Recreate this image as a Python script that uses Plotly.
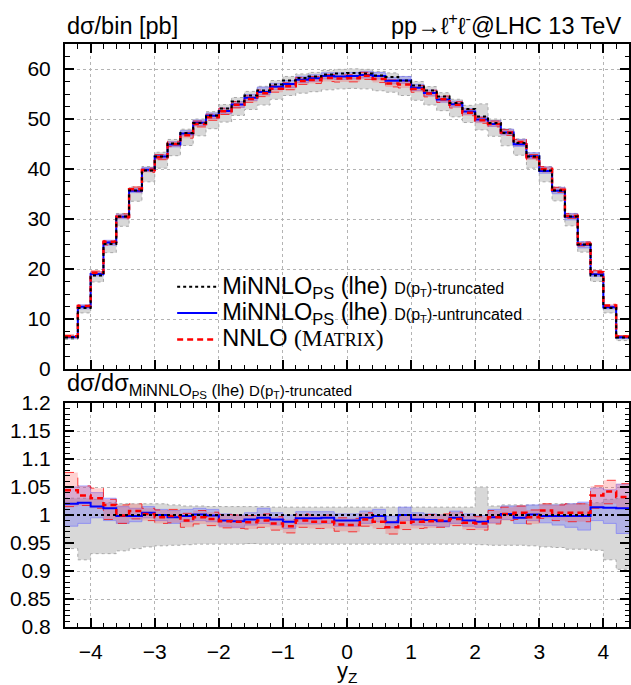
import plotly.graph_objects as go

# ---------------- data ----------------
bin_edges = [-4.4, -4.2, -4.0, -3.8, -3.6, -3.4, -3.2, -3.0, -2.8, -2.6, -2.4,
             -2.2, -2.0, -1.8, -1.6, -1.4, -1.2, -1.0, -0.8, -0.6, -0.4, -0.2,
             0.0, 0.2, 0.4, 0.6, 0.8, 1.0, 1.2, 1.4, 1.6, 1.8, 2.0, 2.2, 2.4,
             2.6, 2.8, 3.0, 3.2, 3.4, 3.6, 3.8, 4.0, 4.2, 4.4]

# MiNNLO_PS (lhe) D(pT)-truncated, dsigma/bin [pb]
minnlo_trunc = [6.3, 12.2, 18.7, 25.0, 30.5, 35.7, 39.7, 42.5, 45.1, 47.2,
                49.2, 50.7, 52.1, 53.5, 54.7, 55.7, 56.9, 57.7, 58.2, 58.5,
                58.9, 59.1, 59.2, 59.1, 58.7, 58.4, 57.7, 56.7, 55.7, 54.5,
                53.2, 52.0, 50.5, 49.2, 47.2, 45.2, 42.5, 39.7, 35.7, 30.5,
                24.9, 18.7, 12.2, 6.3]
# scale band of the truncated prediction (ratio to its central value)
trunc_lo = [0.940, 0.920, 0.931, 0.931, 0.936, 0.940, 0.943, 0.945, 0.946, 0.947,
            0.948, 0.948, 0.948, 0.948, 0.949, 0.948, 0.948, 0.948, 0.948, 0.948,
            0.948, 0.948, 0.948, 0.948, 0.948, 0.948, 0.948, 0.948, 0.948, 0.948,
            0.948, 0.948, 0.947, 0.946, 0.946, 0.946, 0.945, 0.943, 0.942, 0.939,
            0.939, 0.937, 0.920, 0.903]
trunc_hi = [1.030, 1.030, 1.028, 1.022, 1.020, 1.020, 1.020, 1.020, 1.018, 1.016,
            1.016, 1.015, 1.015, 1.015, 1.015, 1.015, 1.014, 1.014, 1.014, 1.014,
            1.014, 1.014, 1.014, 1.014, 1.014, 1.014, 1.014, 1.014, 1.014, 1.014,
            1.014, 1.014, 1.050, 1.016, 1.018, 1.018, 1.018, 1.020, 1.020, 1.020,
            1.020, 1.022, 1.028, 1.030]

# MiNNLO_PS (lhe) D(pT)-untruncated, ratio to truncated
untrunc_ratio = [1.020, 1.022, 1.015, 1.012, 0.998, 0.998, 1.004, 1.000, 0.996, 0.998,
                 1.001, 0.999, 0.990, 0.989, 0.992, 0.995, 0.992, 0.988, 0.994, 0.994,
                 0.995, 0.990, 0.990, 0.995, 0.998, 0.987, 1.000, 0.992, 0.991, 0.989,
                 0.995, 0.990, 0.988, 0.996, 1.002, 0.995, 1.001, 0.998, 0.998, 0.998,
                 0.998, 1.014, 1.013, 1.012]
untrunc_lo = [0.980, 0.985, 0.995, 0.990, 0.985, 0.988, 0.995, 0.990, 0.985, 0.988,
              0.990, 0.988, 0.980, 0.978, 0.982, 0.985, 0.982, 0.976, 0.984, 0.984,
              0.985, 0.980, 0.980, 0.985, 0.988, 0.977, 0.990, 0.982, 0.981, 0.979,
              0.985, 0.980, 0.978, 0.986, 0.992, 0.985, 0.990, 0.986, 0.982, 0.978,
              0.973, 0.990, 0.985, 0.967]
untrunc_hi = [1.050, 1.052, 1.040, 1.030, 1.015, 1.012, 1.015, 1.010, 1.008, 1.010,
              1.012, 1.010, 1.002, 1.000, 1.004, 1.012, 1.004, 1.000, 1.006, 1.006,
              1.006, 1.002, 1.002, 1.007, 1.010, 0.998, 1.014, 1.004, 1.002, 1.000,
              1.007, 1.002, 0.999, 1.010, 1.016, 1.016, 1.018, 1.018, 1.018, 1.020,
              1.023, 1.048, 1.045, 1.055]

# NNLO (MATRIX), ratio to truncated
nnlo_ratio = [1.044, 1.035, 1.030, 1.018, 0.999, 1.007, 1.002, 0.996, 0.998, 0.990,
              0.996, 0.993, 0.989, 0.988, 0.987, 0.990, 0.985, 0.980, 0.990, 0.988,
              0.988, 0.983, 0.982, 0.992, 0.988, 0.978, 0.986, 0.988, 0.989, 0.990,
              0.993, 0.986, 0.985, 0.996, 1.002, 1.004, 0.996, 1.008, 1.004, 1.004,
              1.004, 1.035, 1.042, 1.032]
nnlo_lo = [1.015, 1.017, 1.012, 0.992, 0.985, 0.993, 0.990, 0.985, 0.986, 0.978,
           0.984, 0.981, 0.977, 0.976, 0.975, 0.978, 0.973, 0.968, 0.978, 0.976,
           0.976, 0.971, 0.970, 0.980, 0.976, 0.966, 0.974, 0.976, 0.977, 0.978,
           0.981, 0.974, 0.973, 0.984, 0.990, 0.992, 0.984, 0.994, 0.990, 0.988,
           0.988, 1.012, 1.020, 1.012]
nnlo_hi = [1.076, 1.052, 1.048, 1.028, 1.018, 1.020, 1.012, 1.009, 1.010, 1.003,
           1.008, 1.005, 1.001, 1.000, 0.999, 1.002, 0.997, 0.992, 1.002, 1.000,
           1.000, 0.995, 0.994, 1.004, 1.000, 0.990, 0.998, 1.000, 1.001, 1.002,
           1.005, 0.998, 0.997, 1.008, 1.014, 1.016, 1.009, 1.020, 1.018, 1.020,
           1.020, 1.052, 1.062, 1.056]

ratio_ticks = [0.8, 0.85, 0.9, 0.95, 1.0, 1.05, 1.1, 1.15, 1.2]
ratio_ticktext = ["0.8", "0.85", "0.9", "0.95", "1", "1.05", "1.1", "1.15", "1.2"]

# ---------------- helpers ----------------
def stepy(v):
    v = list(v)
    return v + [v[-1]]

def mul(a, b):
    return [x * y for x, y in zip(a, b)]

one = [t / t for t in minnlo_trunc]

FONT = "Liberation Sans, Arial, Helvetica, sans-serif"
SERIF = "Liberation Serif, Times New Roman, serif"
fig = go.Figure()

def band(lo, hi, xa, ya, fillcolor, edgecolor, edgedash, edgewidth):
    fig.add_trace(go.Scatter(x=bin_edges, y=stepy(lo), mode="lines", line_shape="hv",
                             line=dict(color=edgecolor, width=edgewidth, dash=edgedash),
                             xaxis=xa, yaxis=ya, showlegend=False, hoverinfo="skip"))
    fig.add_trace(go.Scatter(x=bin_edges, y=stepy(hi), mode="lines", line_shape="hv",
                             line=dict(color=edgecolor, width=edgewidth, dash=edgedash),
                             fill="tonexty", fillcolor=fillcolor,
                             xaxis=xa, yaxis=ya, showlegend=False, hoverinfo="skip"))

GRAYF, GRAYE = "#d8d8d8", "#a8a8a8"
BLUEF, BLUEE = "rgba(90,90,255,0.30)", "rgba(110,110,255,0.55)"
REDF, REDE = "rgba(255,70,70,0.25)", "rgba(255,0,0,0.75)"

untrunc = mul(minnlo_trunc, untrunc_ratio)
nnlo = mul(minnlo_trunc, nnlo_ratio)

# top panel bands
band(mul(minnlo_trunc, trunc_lo), mul(minnlo_trunc, trunc_hi), "x", "y", GRAYF, GRAYE, "dot", 1)
band(mul(minnlo_trunc, untrunc_lo), mul(minnlo_trunc, untrunc_hi), "x", "y", BLUEF, BLUEE, "solid", 1)
band(mul(minnlo_trunc, nnlo_lo), mul(minnlo_trunc, nnlo_hi), "x", "y", REDF, REDE, "dash", 1)
# ratio panel bands
band(trunc_lo, trunc_hi, "x2", "y2", GRAYF, GRAYE, "dot", 1)
band(untrunc_lo, untrunc_hi, "x2", "y2", BLUEF, BLUEE, "solid", 1)
band(nnlo_lo, nnlo_hi, "x2", "y2", REDF, REDE, "dash", 1)

BIG = "<span style='font-size:23.5px'>"
NAME_T = (BIG + "MiNNLO<sub>PS</sub> (lhe) </span>"
          "<span style='font-size:16px'>D(p<sub>T</sub>)-truncated</span>")
NAME_U = (BIG + "MiNNLO<sub>PS</sub> (lhe) </span>"
          "<span style='font-size:16px'>D(p<sub>T</sub>)-untruncated</span>")
NAME_N = (BIG + "NNLO </span><span style='font-family:" + SERIF + ";font-size:23.5px'>"
          "(M<span style='font-size:18px'>ATRIX</span>)</span>")

# central lines
for xa, ya, vals_u, vals_n, vals_t, leg in [("x", "y", untrunc, nnlo, minnlo_trunc, True),
                                            ("x2", "y2", untrunc_ratio, nnlo_ratio, one, False)]:
    fig.add_trace(go.Scatter(x=bin_edges, y=stepy(vals_u), mode="lines", line_shape="hv",
                             line=dict(color="#0000ff", width=2), name=NAME_U, legendrank=2,
                             xaxis=xa, yaxis=ya, showlegend=leg))
    fig.add_trace(go.Scatter(x=bin_edges, y=stepy(vals_n), mode="lines", line_shape="hv",
                             line=dict(color="#ff0000", width=2.5, dash="6px,4px"), name=NAME_N,
                             legendrank=3, xaxis=xa, yaxis=ya, showlegend=leg))
    fig.add_trace(go.Scatter(x=bin_edges, y=stepy(vals_t), mode="lines", line_shape="hv",
                             line=dict(color="#000000", width=2, dash="dot"), name=NAME_T,
                             legendrank=1, xaxis=xa, yaxis=ya, showlegend=leg))

axis_common = dict(showline=True, linewidth=2, linecolor="black", mirror="allticks",
                   ticks="inside", ticklen=9, tickwidth=1.6, tickcolor="black",
                   showgrid=True, gridcolor="#b4b4b4", griddash="dot", gridwidth=1,
                   zeroline=False, automargin=False,
                   tickfont=dict(family=FONT, size=21, color="black"))

fig.update_layout(
    width=631, height=685,
    margin=dict(l=65, r=2, t=44, b=58),
    paper_bgcolor="white", plot_bgcolor="white",
    font=dict(family=FONT, size=21, color="black"),
    xaxis=dict(domain=[0, 1], anchor="y", range=[-4.4, 4.4], dtick=1, showticklabels=False,
               matches="x2", minor=dict(ticks="inside", dtick=0.2, ticklen=4.5, tickwidth=1.3,
                                        tickcolor="black"),
               **axis_common),
    yaxis=dict(domain=[0.4425, 1], anchor="x", range=[0, 65], dtick=10,
               minor=dict(ticks="inside", dtick=2.5, ticklen=4.5, tickwidth=1.3, tickcolor="black"),
               ticklabelstandoff=8, **axis_common),
    xaxis2=dict(domain=[0, 1], anchor="y2", range=[-4.4, 4.4], dtick=1,
                minor=dict(ticks="inside", dtick=0.2, ticklen=4.5, tickwidth=1.3, tickcolor="black"),
                ticklabelstandoff=5, **axis_common),
    yaxis2=dict(domain=[0, 0.3842], anchor="x2", range=[0.8, 1.2], tickvals=ratio_ticks,
                ticktext=ratio_ticktext,
                minor=dict(ticks="inside", dtick=0.01, ticklen=4.5, tickwidth=1.3, tickcolor="black"),
                ticklabelstandoff=8, **axis_common),
    legend=dict(x=0.19, y=0.615, xanchor="left", yanchor="top", bgcolor="rgba(0,0,0,0)",
                borderwidth=0, font=dict(family=FONT, size=18, color="black"),
                traceorder="normal", itemwidth=40, tracegroupgap=0),
    showlegend=True,
)

fig.add_annotation(text="dσ/bin [pb]", xref="paper", yref="paper", x=0, y=1,
                   xanchor="left", yanchor="bottom", yshift=3, showarrow=False,
                   font=dict(family=FONT, size=23.5, color="black"))
fig.add_annotation(text="pp→ℓ<sup>+</sup>ℓ<sup>-</sup>@LHC 13 TeV", xref="paper", yref="paper",
                   x=0.989, y=1, xanchor="right", yanchor="bottom", yshift=3, showarrow=False,
                   font=dict(family=FONT, size=23.5, color="black"))
fig.add_annotation(text=("dσ/dσ<sub>MiNNLO<sub>PS</sub> (lhe) "
                         "<span style='font-size:15px'>D(p<sub>T</sub>)-truncated</span></sub>"),
                   xref="paper", yref="paper", x=0, y=0.3842, xanchor="left", yanchor="bottom",
                   yshift=0, showarrow=False, font=dict(family=FONT, size=23.5, color="black"))
fig.add_annotation(text="y<sub>Z</sub>", xref="x2", yref="paper", x=0, y=0,
                   xanchor="center", yanchor="top", yshift=-29, showarrow=False,
                   font=dict(family=FONT, size=22, color="black"))

fig.write_html("out.html", config={"displayModeBar": False},
               post_script="document.body.style.margin='0';document.body.style.overflow='hidden';")
